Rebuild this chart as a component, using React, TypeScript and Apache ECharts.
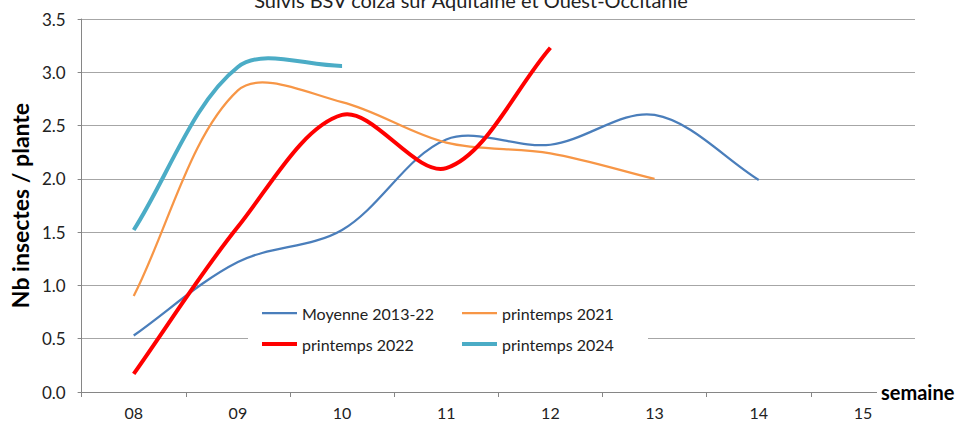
import React, { useEffect, useRef } from "react";
import * as echarts from "echarts";

const weeks = ["08", "09", "10", "11", "12", "13", "14", "15"];
const moyenne = [0.53, 1.22, 1.52, 2.37, 2.32, 2.6, 1.99, null];
const p2021 = [0.9, 2.83, 2.72, 2.34, 2.24, 2.0, null, null];
const p2022 = [0.17, 1.55, 2.6, 2.1, 3.23, null, null, null];
const p2024 = [1.52, 3.05, 3.06, null, null, null, null, null];
const titleText = "Suivis BSV colza sur Aquitaine et Ouest-Occitanie";

const FONT = "Lato";

type Pt = number[];

const dist = (a: Pt, b: Pt) => Math.hypot(b[0] - a[0], b[1] - a[1]);

// Excel-like smoothed curve: cubic Bezier through the points, tangents weighted by segment lengths
function smoothPath(pts: Pt[]): string {
  if (pts.length === 0) return "";
  let d = `M${pts[0][0]},${pts[0][1]}`;
  for (let i = 0; i < pts.length - 1; i++) {
    const p0 = pts[i - 1] || pts[i];
    const p1 = pts[i];
    const p2 = pts[i + 1];
    const p3 = pts[i + 2] || p2;
    const d01 = dist(p0, p1);
    const d12 = dist(p1, p2);
    const d23 = dist(p2, p3);
    const w1 = d01 + d12 > 0 ? d12 / (d01 + d12) : 0.5;
    const w2 = d12 + d23 > 0 ? d12 / (d12 + d23) : 0.5;
    const c1x = p1[0] + ((p2[0] - p0[0]) * w1) / 3;
    const c1y = p1[1] + ((p2[1] - p0[1]) * w1) / 3;
    const c2x = p2[0] - ((p3[0] - p1[0]) * w2) / 3;
    const c2y = p2[1] - ((p3[1] - p1[1]) * w2) / 3;
    d += ` C${c1x},${c1y} ${c2x},${c2y} ${p2[0]},${p2[1]}`;
  }
  return d;
}

export default function App() {
  const ref = useRef<HTMLDivElement>(null);
  useEffect(() => {
    if (!ref.current) return;
    const chart = echarts.init(ref.current, null, { renderer: "svg" });
    const mk = (name: string, values: (number | null)[], color: string, width: number) => {
      const data: number[][] = [];
      values.forEach((v, i) => {
        if (v != null) data.push([i, v]);
      });
      return {
        name,
        type: "custom",
        coordinateSystem: "cartesian2d",
        data,
        encode: { x: 0, y: 1 },
        itemStyle: { color },
        z: 3,
        renderItem: (params: any, api: any) => {
          if (params.dataIndex !== 0) return { type: "group", children: [] };
          const pts = data.map((p) => api.coord(p));
          return {
            type: "path",
            shape: { pathData: smoothPath(pts) },
            style: { fill: "none", stroke: color, lineWidth: width, lineJoin: "round", lineCap: "butt" },
          };
        },
      };
    };
    const legendItem = (name: string, left: number, top: number, h: number) => ({
      data: [name],
      orient: "horizontal",
      left,
      top,
      padding: 0,
      icon: "rect",
      itemWidth: 35,
      itemHeight: h,
      itemGap: 5,
      textStyle: { fontFamily: FONT, fontSize: 16, color: "#222", lineHeight: 20 },
      z: 10,
    });
    chart.setOption({
      animation: false,
      grid: { left: 80, right: 43, top: 19, bottom: 29, containLabel: false },
      xAxis: {
        type: "category",
        data: weeks,
        boundaryGap: true,
        axisLine: { lineStyle: { color: "#868686", width: 1 } },
        axisTick: { show: true, alignWithLabel: false, length: 5, lineStyle: { color: "#868686" } },
        axisLabel: { color: "#222", fontFamily: FONT, fontSize: 16, margin: 12 },
        splitLine: { show: false },
      },
      yAxis: {
        type: "value",
        min: 0,
        max: 3.5,
        interval: 0.5,
        name: "Nb insectes / plante",
        nameLocation: "middle",
        nameRotate: 90,
        nameGap: 38,
        nameTextStyle: { fontFamily: FONT, fontSize: 23, fontWeight: "bold", color: "#000" },
        axisLine: { show: true, lineStyle: { color: "#868686", width: 1 } },
        axisTick: { show: true, length: 4, lineStyle: { color: "#868686" } },
        axisLabel: {
          color: "#222",
          fontFamily: FONT,
          fontSize: 17,
          margin: 16,
          formatter: (v: number) => v.toFixed(1),
        },
        splitLine: { show: true, lineStyle: { color: "#a6a6a6", width: 1 } },
      },
      legend: [
        legendItem("Moyenne 2013-22", 262, 303, 2.25),
        legendItem("printemps 2022", 262, 334, 4),
        legendItem("printemps 2021", 462, 303, 2.25),
        legendItem("printemps 2024", 462, 334, 4),
      ],
      graphic: [
        {
          type: "rect",
          z: 1,
          shape: { x: 248, y: 298, width: 400, height: 68 },
          style: { fill: "#fff" },
          silent: true,
        },
        {
          type: "rect",
          z: 5,
          shape: { x: 877, y: 388, width: 45, height: 8 },
          style: { fill: "#fff" },
          silent: true,
        },
        {
          type: "text",
          z: 6,
          x: 881,
          y: 392,
          style: {
            text: "semaine",
            fontFamily: FONT,
            fontSize: 20,
            fontWeight: "bold",
            fill: "#000",
            align: "left",
            verticalAlign: "middle",
          },
        },
        {
          type: "text",
          z: 6,
          x: 471,
          y: 0,
          style: {
            text: titleText,
            fontFamily: FONT,
            fontSize: 20,
            fill: "#222",
            align: "center",
            verticalAlign: "middle",
          },
        },
      ],
      series: [
        mk("Moyenne 2013-22", moyenne, "#4a7ebb", 2.25),
        mk("printemps 2021", p2021, "#f79646", 2.25),
        mk("printemps 2022", p2022, "#ff0000", 4),
        mk("printemps 2024", p2024, "#4bacc6", 4),
      ],
    });
    return () => chart.dispose();
  }, []);
  return <div ref={ref} style={{ width: 958, height: 421, position: "absolute", left: 0, top: 0 }} />;
}
